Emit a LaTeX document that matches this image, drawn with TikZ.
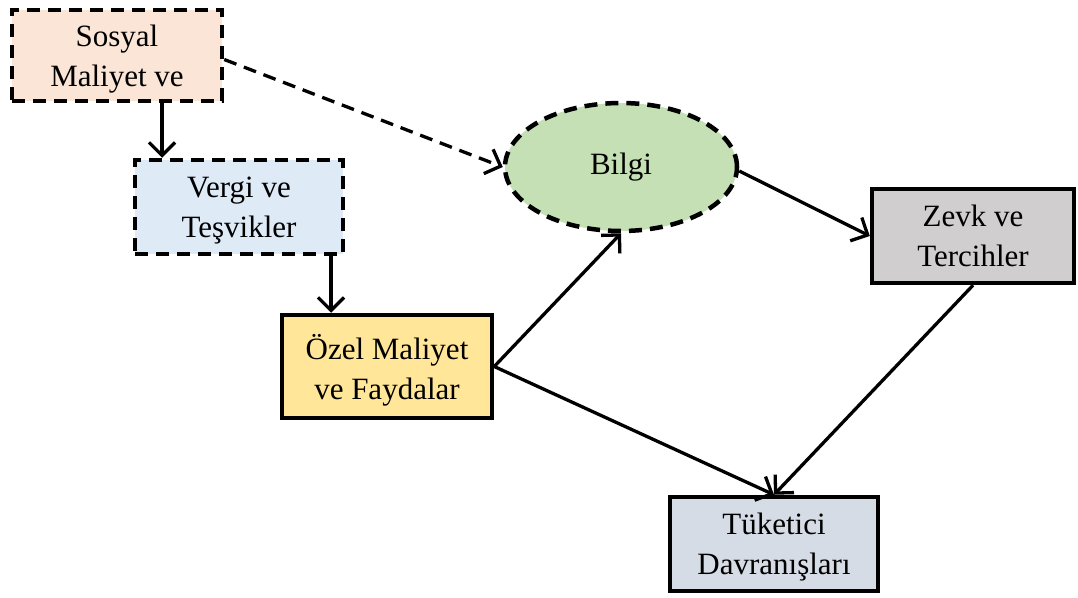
\documentclass[tikz,border=0pt]{standalone}
\usepackage{fontspec}
\setmainfont{Liberation Serif}
\usetikzlibrary{arrows.meta,shapes.geometric}
\definecolor{peach}{HTML}{FBE5D6}
\definecolor{paleblue}{HTML}{DEEBF7}
\definecolor{paleyellow}{HTML}{FFE699}
\definecolor{palegreen}{HTML}{C5E0B4}
\definecolor{palegrey}{HTML}{D0CECE}
\definecolor{bluegrey}{HTML}{D6DCE5}
\tikzset{
  box/.style={draw,line width=4.5pt,align=center,font=\fontsize{31}{40}\selectfont,inner sep=0pt,text depth=-5pt},
  dashbox/.style={box,dash pattern=on 13pt off 8pt},
  conn/.style={line width=3.3pt,-{Straight Barb[length=13pt,width=26pt,line width=3.3pt]}},
}
\begin{document}
\begin{tikzpicture}[x=1pt,y=-1pt]
	\useasboundingbox (0,0) rectangle (1078,597);
	\node[dashbox,fill=peach,minimum width=210pt,minimum height=91pt] (sosyal) at (117,55.5) {Sosyal\\Maliyet ve};
	\node[dashbox,fill=paleblue,minimum width=208pt,minimum height=94pt] (vergi) at (239,207) {Vergi ve\\Teşvikler};
	\node[box,fill=paleyellow,minimum width=210pt,minimum height=103pt] (ozel) at (387,366.5) {Özel Maliyet\\ve Faydalar};
	\node[ellipse,draw,line width=4.5pt,dash pattern=on 13pt off 8pt,fill=palegreen,minimum width=232pt,minimum height=128pt,inner sep=0pt,font=\fontsize{31}{40}\selectfont] (bilgi) at (621,167) {Bilgi};
	\node[box,fill=palegrey,minimum width=202pt,minimum height=94pt] (zevk) at (973,236) {Zevk ve\\Tercihler};
	\node[box,fill=bluegrey,minimum width=208pt,minimum height=94pt] (tuketici) at (774,544) {Tüketici\\Davranışları};
	% connectors
	\draw[conn] (sosyal.south -| 162,0) -- (vergi.north -| 162,0);
	\draw[conn] (vergi.south -| 331,0) -- (ozel.north -| 331,0);
	\draw[conn,dash pattern=on 13pt off 8pt] ([yshift=-4pt]sosyal.east) -- (bilgi.west);
	\draw[conn] (ozel.east) -- (bilgi.south);
	\draw[conn] (ozel.east) -- (tuketici.north);
	\draw[conn] ([yshift=-4pt]bilgi.east) -- (zevk.west);
	\draw[conn] (zevk.south) -- (tuketici.north);
\end{tikzpicture}
\end{document}
